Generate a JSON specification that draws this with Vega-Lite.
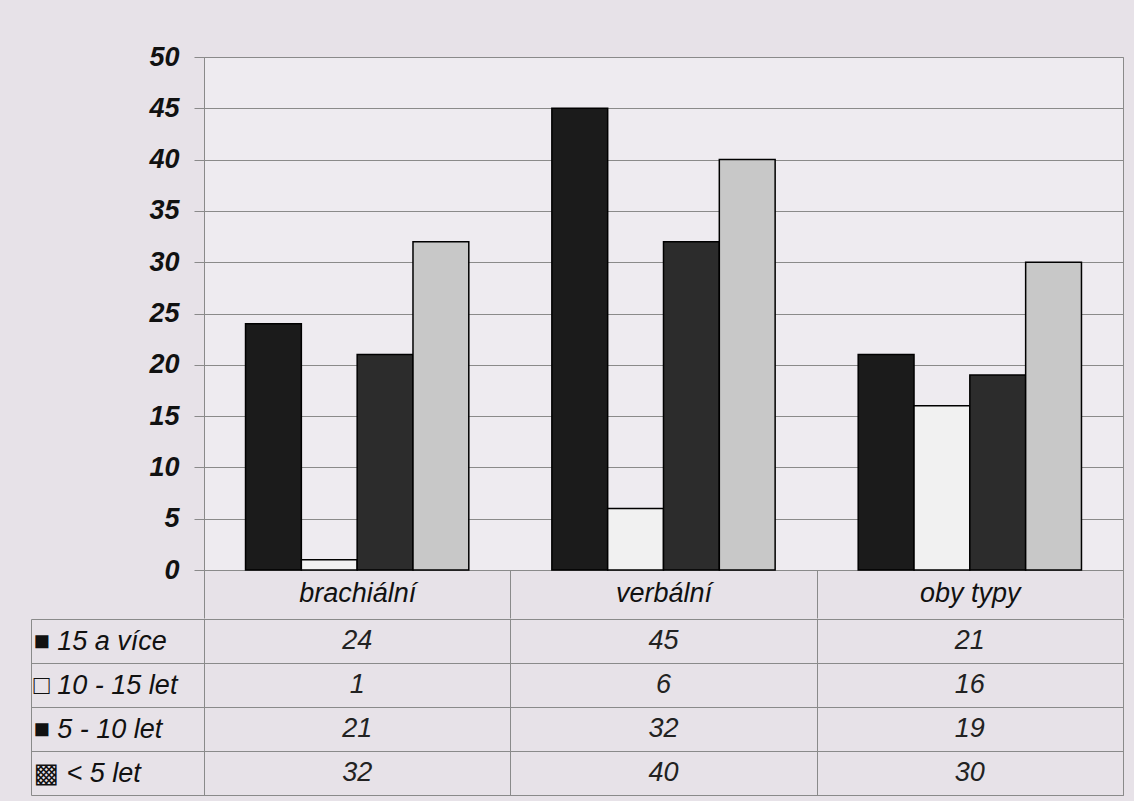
{
  "$schema": "https://vega.github.io/schema/vega-lite/v6.json",
  "background": "#e7e2e8",
  "padding": {"left": 30, "top": 42, "right": 10, "bottom": 5},
  "spacing": -3,
  "datasets": {
    "counts": [
      {"typ": "brachiální", "vek": "15 a více", "pocet": 24},
      {"typ": "brachiální", "vek": "10 - 15 let", "pocet": 1},
      {"typ": "brachiální", "vek": "5 - 10 let", "pocet": 21},
      {"typ": "brachiální", "vek": "< 5 let", "pocet": 32},
      {"typ": "verbální", "vek": "15 a více", "pocet": 45},
      {"typ": "verbální", "vek": "10 - 15 let", "pocet": 6},
      {"typ": "verbální", "vek": "5 - 10 let", "pocet": 32},
      {"typ": "verbální", "vek": "< 5 let", "pocet": 40},
      {"typ": "oby typy", "vek": "15 a více", "pocet": 21},
      {"typ": "oby typy", "vek": "10 - 15 let", "pocet": 16},
      {"typ": "oby typy", "vek": "5 - 10 let", "pocet": 19},
      {"typ": "oby typy", "vek": "< 5 let", "pocet": 30}
    ]
  },
  "config": {
    "font": "Liberation Sans",
    "axis": {"labelFont": "Liberation Sans, DejaVu Sans", "title": null}
  },
  "vconcat": [
    {
      "width": 919,
      "height": 513,
      "data": {"name": "counts"},
      "view": {"stroke": "#8a8a8a", "strokeWidth": 1, "fill": "#eeebf0"},
      "mark": {"type": "bar", "stroke": "#000000", "strokeWidth": 1.5},
      "encoding": {
        "x": {
          "field": "typ",
          "type": "nominal",
          "sort": ["brachiální", "verbální", "oby typy"],
          "scale": {"paddingInner": 0, "paddingOuter": 0},
          "axis": {
            "labelAngle": 0,
            "tickBand": "extent",
            "tickSize": 48,
            "tickColor": "#8a8a8a",
            "domainColor": "#8a8a8a",
            "labelPadding": -25,
            "labelBaseline": "middle",
            "labelFontSize": 27,
            "labelFontStyle": "italic",
            "labelColor": "#111111"
          }
        },
        "xOffset": {
          "field": "vek",
          "type": "nominal",
          "sort": ["15 a více", "10 - 15 let", "5 - 10 let", "< 5 let"],
          "scale": {"paddingInner": 0, "paddingOuter": 0.744}
        },
        "y": {
          "field": "pocet",
          "type": "quantitative",
          "scale": {"domain": [0, 50], "nice": false},
          "axis": {
            "values": [0, 5, 10, 15, 20, 25, 30, 35, 40, 45, 50],
            "grid": true,
            "gridColor": "#8a8a8a",
            "domainColor": "#8a8a8a",
            "tickColor": "#8a8a8a",
            "tickSize": 10,
            "labelPadding": 15,
            "labelFontSize": 27,
            "labelFontWeight": "bold",
            "labelFontStyle": "italic",
            "labelColor": "#111111",
            "minExtent": 173,
            "maxExtent": 173
          }
        },
        "fill": {
          "field": "vek",
          "type": "nominal",
          "scale": {
            "domain": ["15 a více", "10 - 15 let", "5 - 10 let", "< 5 let"],
            "range": ["#1b1b1b", "#f1f1f1", "#2c2c2c", "#c8c8c8"]
          },
          "legend": null
        }
      }
    },
    {
      "width": 919,
      "height": 176,
      "data": {"name": "counts"},
      "view": {"stroke": "#8a8a8a", "strokeWidth": 1},
      "mark": {"type": "text", "fontSize": 27, "fontStyle": "italic", "fill": "#222222"},
      "encoding": {
        "x": {
          "field": "typ",
          "type": "nominal",
          "sort": ["brachiální", "verbální", "oby typy"],
          "scale": {"paddingInner": 0, "paddingOuter": 0},
          "axis": {
            "labels": false,
            "ticks": false,
            "domain": false,
            "grid": true,
            "tickBand": "extent",
            "gridColor": "#8a8a8a"
          }
        },
        "y": {
          "field": "vek",
          "type": "nominal",
          "sort": ["15 a více", "10 - 15 let", "5 - 10 let", "< 5 let"],
          "scale": {"paddingInner": 0, "paddingOuter": 0},
          "axis": {
            "offset": 173,
            "domainColor": "#8a8a8a",
            "tickBand": "extent",
            "tickSize": -1092,
            "tickColor": "#8a8a8a",
            "labelAlign": "left",
            "labelBaseline": "middle",
            "labelPadding": 1090,
            "labelLimit": 400,
            "labelFontSize": {"condition": {"test": "!isValid(datum.value)", "value": 0}, "value": 27},
            "labelFontStyle": "italic",
            "labelColor": "#111111",
            "labelExpr": "isValid(datum.value) ? (datum.value == '10 - 15 let' ? '□ ' : datum.value == '< 5 let' ? '▩ ' : '■ ') + datum.value : ''"
          }
        },
        "text": {"field": "pocet", "type": "quantitative"}
      }
    }
  ]
}
